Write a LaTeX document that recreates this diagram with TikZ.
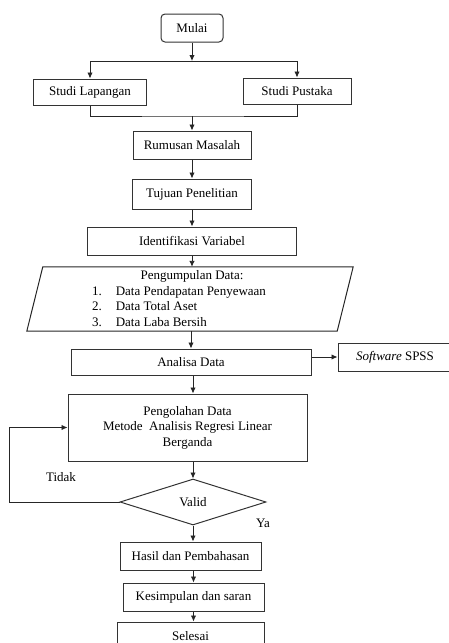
\documentclass[tikz,border=0pt]{standalone}
\usepackage{fontspec}
\setmainfont{Liberation Serif}
\usetikzlibrary{shapes.geometric, arrows.meta}

\tikzset{
    box/.style = {draw = black!80, line width = 1pt, minimum height = 28pt, inner sep = 2pt},
    line/.style = {draw = black!85, line width = 0.9pt},
    flow/.style = {line, -{Latex[length = 6pt, width = 5.5pt]}}
}

\begin{document}
\begin{tikzpicture}[x = 1pt, y = -1pt, font = \fontsize{13}{15.5}\selectfont]
    \useasboundingbox (0, 0) rectangle (449, 643);
    \clip (0, 0) rectangle (449, 643);

    % kotak alur
    \node[box, rounded corners = 4pt, minimum width = 62pt] (mulai) at (192, 28) {Mulai};
    \node[box, minimum width = 113pt, minimum height = 26pt] (lapangan) at (90, 92) {Studi Lapangan};
    \node[box, minimum width = 108pt, minimum height = 26pt] (pustaka) at (297, 91) {Studi Pustaka};
    \node[box, minimum width = 118pt] (rumusan) at (192, 145) {Rumusan Masalah};
    \node[box, minimum width = 119pt, minimum height = 30pt] (tujuan) at (192, 194) {Tujuan Penelitian};
    \node[box, minimum width = 209pt] (identifikasi) at (192, 241) {Identifikasi Variabel};

    \node[minimum width = 310pt, minimum height = 64pt] (kumpul) at (190, 299) {};
    \draw[line, line width = 1pt]
        ([xshift = 8pt]kumpul.north west) -- ([xshift = 8pt]kumpul.north east)
        -- ([xshift = -8pt]kumpul.south east) -- ([xshift = -8pt]kumpul.south west) -- cycle;
    \node[inner sep = 0pt] (kumpulteks) at (179, 300) {%
        \begin{tabular}{@{}l@{\hspace{14pt}}l@{}}
            \multicolumn{2}{@{\hspace{26pt}}c@{}}{Pengumpulan Data:} \\
            1. & Data Pendapatan Penyewaan \\
            2. & Data Total Aset \\
            3. & Data Laba Bersih
        \end{tabular}};

    \node[box, minimum width = 240pt, minimum height = 26pt] (analisa) at (191, 362) {Analisa Data};
    \node[box, minimum width = 114pt] (spss) at (395, 357) {\textit{Software} SPSS};
    \node[box, minimum width = 239pt, minimum height = 67pt, align = center] (olah) at (187.5, 427.5)
        {Pengolahan Data\\Metode \ Analisis Regresi Linear\\Berganda};
    \node[box, shape = diamond, inner sep = 0pt, minimum width = 146pt, minimum height = 46pt] (valid) at (193, 502) {Valid};
    \node[box, minimum width = 141pt] (hasil) at (190.5, 556) {Hasil dan Pembahasan};
    \node[box, minimum width = 141pt] (kesimpulan) at (193.5, 597) {Kesimpulan dan saran};
    \node[box, minimum width = 147pt] (selesai) at (190.5, 636) {Selesai};

    \node (tidak) at (61, 477) {Tidak};
    \node (ya) at (263, 523) {Ya};

    % penghubung
    \coordinate (cabang) at (192, 61);
    \coordinate (gabung) at (192, 116);
    \draw[flow] (mulai) -- (cabang);
    \draw[flow] (cabang) -| (lapangan.north);
    \draw[flow] (cabang) -| (pustaka.north);
    \draw[line] (lapangan.south) |- (gabung) -| (pustaka.south);
    \draw[flow] (gabung) -- (rumusan);
    \draw[flow] (rumusan) -- (tujuan);
    \draw[flow] (tujuan) -- (identifikasi);
    \draw[flow] (identifikasi) -- (identifikasi.south |- kumpul.north);
    \draw[flow] (kumpul.south -| analisa.north) -- (analisa.north);
    \draw[flow] (spss.west -| analisa.east) -- (spss.west);
    \draw[flow] ([xshift = 2pt]analisa.south) -- ([xshift = 2pt]analisa.south |- olah.north);
    \draw[flow] (olah.south -| valid.north) -- (valid.north);
    \draw[flow] (valid.west) -- ++(-110, 0) |- (olah.west);
    \draw[flow] (valid.south) -- (valid.south |- hasil.north);
    \draw[flow] (hasil.south -| kesimpulan.north) -- (kesimpulan.north);
    \draw[flow] (kesimpulan.south) -- (kesimpulan.south |- selesai.north);
\end{tikzpicture}
\end{document}
